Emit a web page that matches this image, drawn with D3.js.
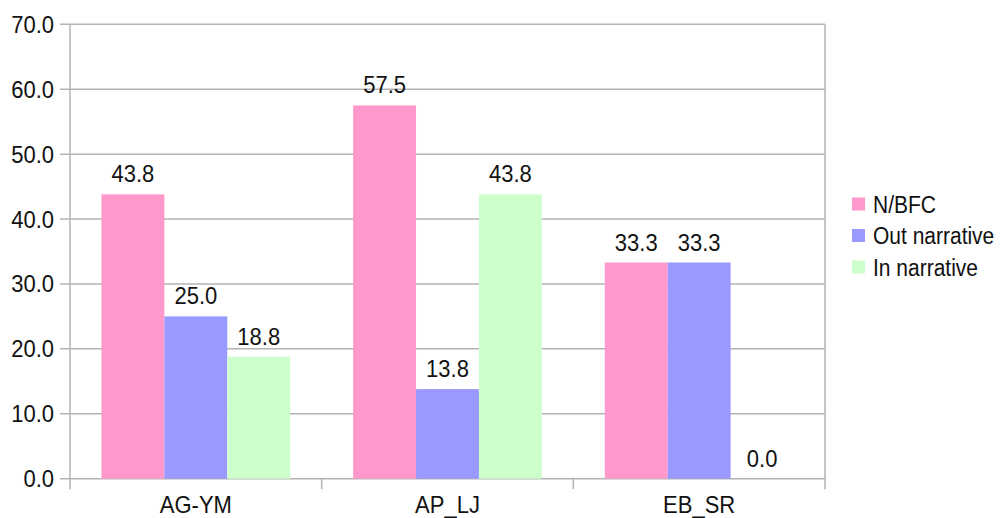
<!DOCTYPE html>
<html>
<head>
<meta charset="utf-8">
<script src="https://cdn.jsdelivr.net/npm/d3@7"></script>
<style>
  body { margin: 0; background: #fff; }
  text { font-family: "Liberation Sans", Arial, sans-serif; fill: #111; }
</style>
</head>
<body>
<div id="chart"></div>
<script>
// categories and series
var categories = ["AG-YM", "AP_LJ", "EB_SR"];
var seriesNames = ["N/BFC", "Out narrative", "In narrative"];
var nbfc = [43.8, 57.5, 33.3];
var outNarrative = [25.0, 13.8, 33.3];
var inNarrative = [18.8, 43.8, 0.0];
var yTicks = [0, 10, 20, 30, 40, 50, 60, 70];
var colors = ["#ff99cc", "#9999ff", "#ccffcc"];

var width = 1001, height = 518;
var margin = { top: 24.3, left: 70, right: 176, bottom: 39.3 };

var svg = d3.select("#chart").append("svg")
    .attr("width", width)
    .attr("height", height);

var x0 = d3.scaleBand()
    .domain(categories)
    .range([margin.left, width - margin.right])
    .padding(0);

var x1 = d3.scaleBand()
    .domain(seriesNames)
    .range([0, x0.bandwidth()])
    .paddingInner(0)
    .paddingOuter(0.5);

var y = d3.scaleLinear()
    .domain([0, 70])
    .range([height - margin.bottom, margin.top]);

var gridColor = "#b3b3b3";

// text is a bit taller than wide in the picture, stretch it vertically
function place(px, py, s) {
    return "translate(" + px + "," + py + ") scale(1," + s + ")";
}

// horizontal grid lines + ticks
svg.append("g").selectAll("line")
    .data(yTicks)
    .enter()
    .append("line")
    .attr("x1", margin.left - 10)
    .attr("x2", width - margin.right)
    .attr("y1", d => y(d))
    .attr("y2", d => y(d))
    .attr("stroke", gridColor)
    .attr("stroke-width", 1.5);

// y tick labels
svg.append("g").selectAll("text")
    .data(yTicks)
    .enter()
    .append("text")
    .attr("transform", d => place(54, y(d), 1.07))
    .attr("dy", "0.36em")
    .attr("text-anchor", "end")
    .style("font-size", "22px")
    .text(d => d.toFixed(1));

// vertical axis lines and category ticks
var bounds = categories.map(c => x0(c)).concat([width - margin.right]);
svg.append("g").selectAll("line")
    .data(bounds)
    .enter()
    .append("line")
    .attr("x1", d => d)
    .attr("x2", d => d)
    .attr("y1", (d, i) => (i == 0 || i == bounds.length - 1) ? margin.top : y(0))
    .attr("y2", y(0) + 10.5)
    .attr("stroke", gridColor)
    .attr("stroke-width", 1.5);

// bars
var rows = categories.map(function (c, i) {
    return { cat: c, values: [nbfc[i], outNarrative[i], inNarrative[i]] };
});

var groups = svg.append("g").selectAll("g")
    .data(rows)
    .enter()
    .append("g")
    .attr("transform", d => "translate(" + x0(d.cat) + ",0)");

groups.selectAll("rect")
    .data(d => d.values.map((v, j) => ({ name: seriesNames[j], value: v, color: colors[j] })))
    .enter()
    .append("rect")
    .attr("x", d => x1(d.name))
    .attr("width", x1.bandwidth())
    .attr("y", d => y(d.value))
    .attr("height", d => y(0) - y(d.value))
    .attr("fill", d => d.color);

groups.selectAll("text")
    .data(d => d.values.map((v, j) => ({ name: seriesNames[j], value: v })))
    .enter()
    .append("text")
    .attr("transform", d => place(x1(d.name) + x1.bandwidth() / 2, y(d.value) - 12, 1.07))
    .attr("text-anchor", "middle")
    .style("font-size", "22px")
    .text(d => d.value.toFixed(1));

// category labels
svg.append("g").selectAll("text")
    .data(categories)
    .enter()
    .append("text")
    .attr("transform", d => place(x0(d) + x0.bandwidth() / 2, 513, 1.07))
    .attr("text-anchor", "middle")
    .style("font-size", "22px")
    .text(d => d);

// legend
var legend = svg.append("g").selectAll("g")
    .data(seriesNames)
    .enter()
    .append("g")
    .attr("transform", (d, i) => "translate(852," + (204 + i * 31.5) + ")");

legend.append("rect")
    .attr("x", 0)
    .attr("y", -6.5)
    .attr("width", 13)
    .attr("height", 13)
    .attr("fill", (d, i) => colors[i]);

legend.append("text")
    .attr("transform", place(21, 0, 1.15))
    .attr("dy", "0.36em")
    .style("font-size", "21px")
    .text(d => d);
</script>
</body>
</html>
